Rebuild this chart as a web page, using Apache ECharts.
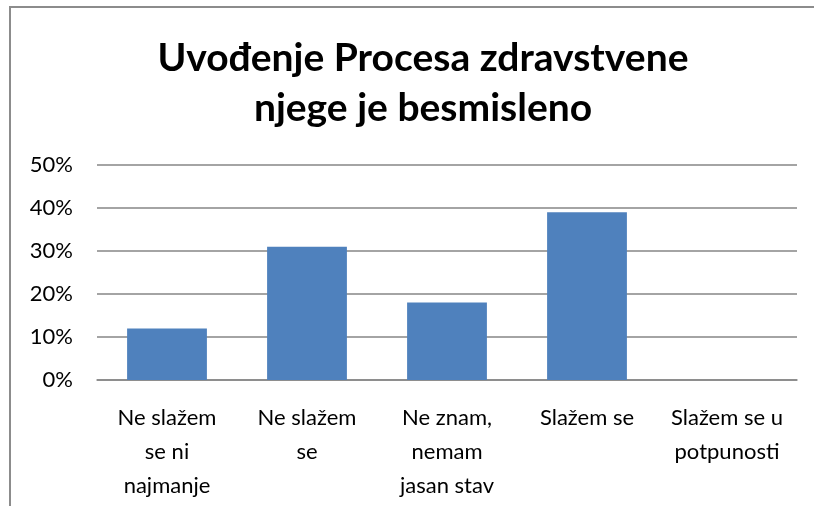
<!DOCTYPE html>
<html><head><meta charset="utf-8">
<script src="https://cdn.jsdelivr.net/npm/echarts@6/dist/echarts.min.js"></script>
<style>html,body{margin:0;padding:0;background:#fff}#c{width:814px;height:506px}</style>
</head><body><div id="c"></div>
<script>
const categories = ['Ne slažem\nse ni\nnajmanje', 'Ne slažem\nse', 'Ne znam,\nnemam\njasan stav', 'Slažem se', 'Slažem se u\npotpunosti'];
const values = [12, 31, 18, 39, 0];
const titleText = 'Uvođenje Procesa zdravstvene\nnjege je besmisleno';
const yTicks = { min: 0, max: 50, interval: 10 };

const chart = echarts.init(document.getElementById('c'), null, { renderer: 'canvas' });
chart.setOption({
  animation: false,
  backgroundColor: '#fff',
  graphic: [{
    type: 'rect', shape: { x: 10, y: 7, width: 900, height: 600 },
    style: { fill: 'none', stroke: '#8c8c8c', lineWidth: 2 }, silent: true, z: -1
  }],
  title: {
    text: titleText, left: 418, top: 28, textAlign: 'center',
    textStyle: { fontFamily: 'Lato', fontWeight: 'bold', fontSize: 39, lineHeight: 50, color: '#000' }
  },
  grid: { left: 97, right: 17, top: 165, bottom: 126 },
  xAxis: {
    type: 'category', data: categories,
    axisLine: { show: true, lineStyle: { color: '#868686', width: 1.5 } },
    axisTick: { show: false },
    axisLabel: { interval: 0, margin: 21, fontFamily: 'Lato', fontSize: 22, lineHeight: 34, color: '#000' }
  },
  yAxis: {
    type: 'value', min: yTicks.min, max: yTicks.max, interval: yTicks.interval,
    axisLine: { show: false }, axisTick: { show: false },
    axisLabel: { margin: 24, fontFamily: 'Lato', fontSize: 22, color: '#000', formatter: v => v + '%' },
    splitLine: { lineStyle: { color: '#868686', width: 1.5 } }
  },
  series: [{
    type: 'bar', data: values, barWidth: '57%',
    itemStyle: { color: '#4F81BD' }
  }]
});
</script></body></html>
